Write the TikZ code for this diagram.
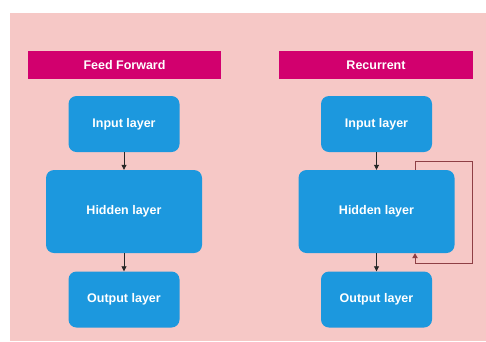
\documentclass[tikz,border=0pt]{standalone}
\usepackage{fontspec}
\setmainfont{Liberation Sans}
\usetikzlibrary{arrows.meta}
\definecolor{bgpink}{HTML}{F6C8C6}
\definecolor{banner}{HTML}{D2006E}
\definecolor{layerblue}{HTML}{1C98DE}
\definecolor{loopred}{HTML}{8E3F45}
\tikzset{
  px/.style={x=1pt,y=-1pt},
  banner/.style={fill=banner, draw=none, text=white, font=\bfseries\fontsize{12.5}{14}\selectfont, inner sep=0pt},
  layer/.style={fill=layerblue, draw=none, rounded corners=8pt, text=white, font=\bfseries\fontsize{12.5}{14}\selectfont, inner sep=0pt},
  flow/.style={draw=black!85, line width=0.8pt, -{Triangle[length=5pt,width=5pt]}},
  loop/.style={draw=loopred, line width=0.9pt}
}
\begin{document}
\begin{tikzpicture}[px]
  % canvas and panel
  \fill[white] (0,0) rectangle (486,341);
  \useasboundingbox (0,0) rectangle (486,341);
  \fill[bgpink] (10,13) rectangle (486,341);

  % headings
  \node[banner, minimum width=193pt, minimum height=28pt] (ffhead) at (124.5,65) {Feed Forward};
  \node[banner, minimum width=194pt, minimum height=28pt] (rchead) at (376,65) {Recurrent};

  % feed-forward column
  \node[layer, minimum width=111pt, minimum height=56pt] (ffin) at (124,124) {Input layer};
  \node[layer, minimum width=156pt, minimum height=83pt] (ffhid) at (124,211.5) {Hidden layer};
  \node[layer, minimum width=111pt, minimum height=56pt] (ffout) at (124,299.5) {Output layer};

  % recurrent column
  \node[layer, minimum width=111pt, minimum height=56pt] (rcin) at (376.5,124) {Input layer};
  \node[layer, minimum width=156pt, minimum height=83pt] (rchid) at (376.5,211.5) {Hidden layer};
  \node[layer, minimum width=111pt, minimum height=56pt] (rcout) at (376.5,299.5) {Output layer};

  % forward connections
  \draw[flow] (ffin.south) -- (ffhid.north);
  \draw[flow] (ffhid.south) -- (ffout.north);
  \draw[flow] (rcin.south) -- (rchid.north);
  \draw[flow] (rchid.south) -- (rcout.north);

  % recurrent feedback loop
  \coordinate (lt) at (415,161);
  \coordinate (rt) at (472,161);
  \coordinate (rb) at (472,263);
  \coordinate (lb) at (415,263);
  \draw[loop] (lt |- rchid.north) -- (lt) -- (rt) -- (rb) -- (lb);
  \draw[loop, -{Triangle[length=5pt,width=5.5pt]}] (lb) -- (lb |- rchid.south);
\end{tikzpicture}
\end{document}
